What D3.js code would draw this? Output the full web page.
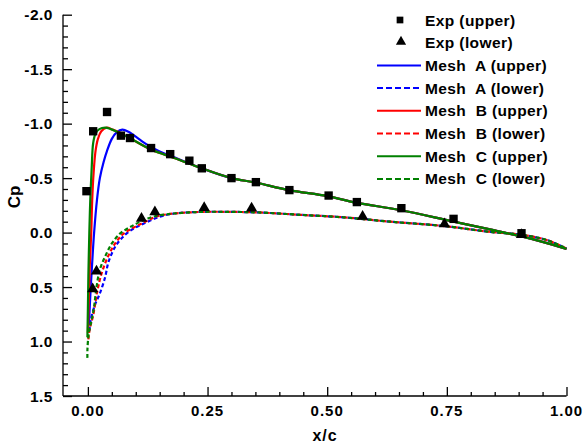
<!DOCTYPE html>
<html>
<head>
<meta charset="utf-8">
<script src="https://cdn.jsdelivr.net/npm/d3@7"></script>
<style>
  body { margin: 0; background: #fff; }
  svg text { font-family: "Liberation Sans", Arial, sans-serif; font-weight: bold; fill: #000; }
</style>
</head>
<body>
<div id="chart"></div>
<script>
// experimental points [x/c, Cp]
const expUpper = [[-0.003,-0.38],[0.011,-0.93],[0.040,-1.107],[0.069,-0.89],[0.088,-0.868],[0.132,-0.776],[0.172,-0.72],[0.212,-0.66],[0.238,-0.59],[0.300,-0.50],[0.351,-0.463],[0.421,-0.39],[0.503,-0.34],[0.562,-0.28],[0.655,-0.224],[0.764,-0.126],[0.906,0.006]];
const expLower = [[0.018,0.364],[0.010,0.527],[0.112,-0.12],[0.140,-0.18],[0.243,-0.218],[0.342,-0.215],[0.574,-0.138],[0.745,-0.07],[0.906,0.03]];

// shared aft part of the computed curves
const upperTail = [[0.238,-0.59],[0.30,-0.50],[0.35,-0.46],[0.42,-0.39],[0.50,-0.335],[0.56,-0.275],[0.655,-0.205],[0.764,-0.10],[0.85,-0.02],[0.906,0.035],[0.95,0.085],[1.0,0.15]];
const lowerTail = [[0.18,-0.175],[0.24,-0.19],[0.30,-0.19],[0.356,-0.185],[0.444,-0.163],[0.534,-0.14],[0.632,-0.10],[0.744,-0.06],[0.841,-0.006],[0.906,0.02],[0.96,0.07],[1.0,0.147]];

// leading edge part of each mesh
const meshAUpper = [[0.002,0.85],[0.006,0.50],[0.010,0.20],[0.013,0.0],[0.019,-0.30],[0.025,-0.50],[0.033,-0.65],[0.040,-0.75],[0.050,-0.86],[0.060,-0.92],[0.072,-0.945],[0.085,-0.925],[0.100,-0.88],[0.126,-0.80],[0.150,-0.745],[0.182,-0.688]].concat(upperTail);
const meshALower = [[0.003,0.90],[0.006,0.80],[0.015,0.66],[0.024,0.57],[0.036,0.41],[0.043,0.27],[0.057,0.13],[0.071,0.05],[0.091,-0.025],[0.12,-0.09],[0.15,-0.145]].concat(lowerTail);
const meshBUpper = [[0.000,0.92],[0.002,0.60],[0.004,0.30],[0.007,0.0],[0.009,-0.30],[0.012,-0.55],[0.016,-0.75],[0.021,-0.86],[0.028,-0.93],[0.039,-0.963],[0.052,-0.945],[0.065,-0.92],[0.088,-0.866],[0.133,-0.76],[0.182,-0.683]].concat(upperTail);
const meshBLower = [[0.001,0.98],[0.004,0.88],[0.011,0.76],[0.020,0.53],[0.029,0.37],[0.042,0.22],[0.057,0.10],[0.073,0.015],[0.095,-0.045],[0.12,-0.10],[0.145,-0.15]].concat(lowerTail);
const meshCUpper = [[-0.001,0.96],[0.000,0.70],[0.001,0.40],[0.003,0.0],[0.005,-0.30],[0.008,-0.60],[0.011,-0.82],[0.016,-0.91],[0.024,-0.95],[0.036,-0.963],[0.048,-0.95],[0.060,-0.927],[0.088,-0.866],[0.133,-0.76],[0.182,-0.683]].concat(upperTail);
const meshCLower = [[-0.001,1.15],[-0.001,1.08],[0.002,0.92],[0.008,0.80],[0.013,0.68],[0.018,0.50],[0.025,0.34],[0.036,0.22],[0.050,0.10],[0.067,0.01],[0.088,-0.05],[0.112,-0.105],[0.140,-0.15]].concat(lowerTail);

const xTicks = [0, 0.25, 0.5, 0.75, 1.0];
const yTicks = [-2.0, -1.5, -1.0, -0.5, 0.0, 0.5, 1.0, 1.5];

const series = [
    { name: "Mesh  A (upper)", data: meshAUpper, color: "#0000ff", dash: null },
    { name: "Mesh  A (lower)", data: meshALower, color: "#0000ff", dash: "4,2.5" },
    { name: "Mesh  B (upper)", data: meshBUpper, color: "#ff0000", dash: null },
    { name: "Mesh  B (lower)", data: meshBLower, color: "#ff0000", dash: "4,2.5" },
    { name: "Mesh  C (upper)", data: meshCUpper, color: "#008000", dash: null },
    { name: "Mesh  C (lower)", data: meshCLower, color: "#008000", dash: "4,2.5" }
];

const W = 586, H = 443;
const svg = d3.select("#chart").append("svg")
    .attr("width", W)
    .attr("height", H);

const x = d3.scaleLinear().domain([-0.052, 1.0]).range([63, 566.5]);
// Cp axis reversed: negative up
const y = d3.scaleLinear().domain([-2.0, 1.5]).range([14.7, 396]);

//axes with inward ticks, tecplot style
const xAxis = svg.append("g").attr("transform", `translate(0,${y(1.5)})`);
xAxis.call(d3.axisTop(x).tickValues(d3.range(0, 1.0001, 0.05)).tickSize(4).tickFormat(""));
xAxis.selectAll(".tick").filter(d => xTicks.some(t => Math.abs(t - d) < 1e-6)).select("line").attr("y2", -9);
xAxis.select(".domain").attr("d", `M${x(-0.052)},0H${x(1.0)}`);

const yAxis = svg.append("g").attr("transform", `translate(${x(-0.052)},0)`);
yAxis.call(d3.axisRight(y).tickValues(d3.range(-2.0, 1.5001, 0.1)).tickSize(5).tickFormat(""));
yAxis.selectAll(".tick").filter(d => yTicks.some(t => Math.abs(t - d) < 1e-6)).select("line").attr("x2", 9);
yAxis.select(".domain").attr("d", `M0,${y(-2.0)}V${y(1.5)}`);

svg.selectAll(".domain, .tick line").attr("stroke", "#000").attr("stroke-width", 1.3);

//tick labels
svg.append("g").selectAll("text")
    .data(xTicks)
    .join("text")
    .attr("x", d => x(d))
    .attr("y", 416)
    .attr("text-anchor", "middle")
    .style("font-size", "15px")
    .style("letter-spacing", "1px")
    .text(d => d3.format(".2f")(d));

svg.append("g").selectAll("text")
    .data(yTicks)
    .join("text")
    .attr("x", 53)
    .attr("y", d => y(d) + 5.5)
    .attr("text-anchor", "end")
    .style("font-size", "15.5px")
    .style("letter-spacing", "0.5px")
    .text(d => d3.format(".1f")(d).replace("\u2212", "-"));

//axis titles
svg.append("text")
    .attr("x", 325)
    .attr("y", 441)
    .attr("text-anchor", "middle")
    .style("font-size", "16px")
    .style("letter-spacing", "1px")
    .text("x/c");

svg.append("text")
    .attr("transform", "translate(20,197) rotate(-90)")
    .attr("text-anchor", "middle")
    .style("font-size", "17px")
    .text("Cp");

//curves
const line = d3.line()
    .x(d => x(d[0]))
    .y(d => y(d[1]))
    .curve(d3.curveCatmullRom.alpha(0.5));

svg.append("g").selectAll("path")
    .data(series)
    .join("path")
    .attr("d", d => line(d.data))
    .attr("fill", "none")
    .attr("stroke", d => d.color)
    .attr("stroke-width", 2.2)
    .attr("stroke-dasharray", d => d.dash);

//experimental markers
const square = d3.symbol().type(d3.symbolSquare).size(70);
const triangle = d3.symbol().type(d3.symbolTriangle).size(55);

svg.append("g").selectAll("path")
    .data(expUpper)
    .join("path")
    .attr("transform", d => `translate(${x(d[0])},${y(d[1])})`)
    .attr("d", square)
    .attr("fill", "#000");

svg.append("g").selectAll("path")
    .data(expLower)
    .join("path")
    .attr("transform", d => `translate(${x(d[0])},${y(d[1]) - 1})`)
    .attr("d", triangle)
    .attr("fill", "#000");

//legend
const legY0 = 20, legStep = 22.7;
const legend = svg.append("g");

legend.append("path")
    .attr("transform", `translate(400,${legY0})`)
    .attr("d", d3.symbol().type(d3.symbolSquare).size(45)())
    .attr("fill", "#000");
legend.append("path")
    .attr("transform", `translate(401,${legY0 + legStep - 1})`)
    .attr("d", d3.symbol().type(d3.symbolTriangle).size(45)())
    .attr("fill", "#000");

legend.selectAll("line")
    .data(series)
    .join("line")
    .attr("x1", 377)
    .attr("x2", 421)
    .attr("y1", (d, i) => legY0 + (i + 2) * legStep)
    .attr("y2", (d, i) => legY0 + (i + 2) * legStep)
    .attr("stroke", d => d.color)
    .attr("stroke-width", 2)
    .attr("stroke-dasharray", d => d.dash ? "6,3" : null);

const legNames = ["Exp (upper)", "Exp (lower)"].concat(series.map(s => s.name));
legend.selectAll("text")
    .data(legNames)
    .join("text")
    .attr("x", 425)
    .attr("y", (d, i) => legY0 + i * legStep + 5.5)
    .style("font-size", "15.5px")
    .style("letter-spacing", "0.4px")
    .style("white-space", "pre")
    .attr("xml:space", "preserve")
    .text(d => d);
</script>
</body>
</html>
